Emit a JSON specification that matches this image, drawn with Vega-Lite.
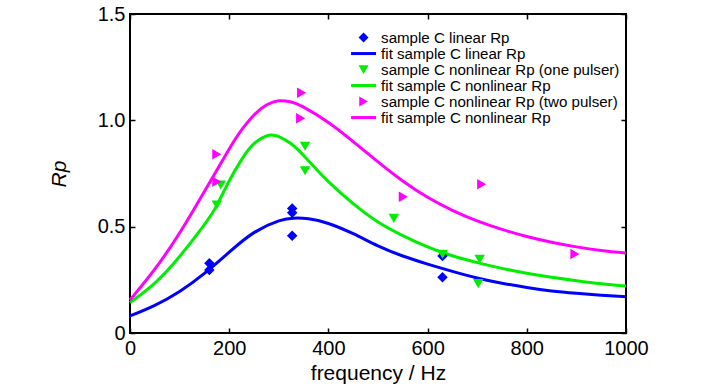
{
  "$schema": "https://vega.github.io/schema/vega-lite/v6.json",
  "width": 496,
  "height": 319,
  "autosize": {"type": "none"},
  "padding": {"left": 130, "top": 14, "right": 101, "bottom": 57},
  "background": "white",
  "config": {
    "view": {"stroke": "black", "strokeWidth": 2},
    "axis": {
      "grid": false,
      "domain": false,
      "tickColor": "black",
      "tickWidth": 1.5,
      "tickSize": -5,
      "labelColor": "black",
      "titleColor": "black",
      "labelFont": "Liberation Sans",
      "titleFont": "Liberation Sans",
      "labelFontSize": 20,
      "titleFontSize": 21,
      "titleFontWeight": "normal",
      "labelFlush": false
    }
  },
  "datasets": {
    "fits": [
      {"frequency": 0, "Rp": 0.08, "series": "linear fit"},
      {"frequency": 50, "Rp": 0.13, "series": "linear fit"},
      {"frequency": 100, "Rp": 0.195, "series": "linear fit"},
      {"frequency": 150, "Rp": 0.28, "series": "linear fit"},
      {"frequency": 200, "Rp": 0.38, "series": "linear fit"},
      {"frequency": 250, "Rp": 0.472, "series": "linear fit"},
      {"frequency": 300, "Rp": 0.527, "series": "linear fit"},
      {"frequency": 330, "Rp": 0.54, "series": "linear fit"},
      {"frequency": 360, "Rp": 0.537, "series": "linear fit"},
      {"frequency": 400, "Rp": 0.515, "series": "linear fit"},
      {"frequency": 450, "Rp": 0.467, "series": "linear fit"},
      {"frequency": 500, "Rp": 0.41, "series": "linear fit"},
      {"frequency": 550, "Rp": 0.362, "series": "linear fit"},
      {"frequency": 600, "Rp": 0.324, "series": "linear fit"},
      {"frequency": 650, "Rp": 0.29, "series": "linear fit"},
      {"frequency": 700, "Rp": 0.259, "series": "linear fit"},
      {"frequency": 750, "Rp": 0.234, "series": "linear fit"},
      {"frequency": 800, "Rp": 0.214, "series": "linear fit"},
      {"frequency": 850, "Rp": 0.198, "series": "linear fit"},
      {"frequency": 900, "Rp": 0.187, "series": "linear fit"},
      {"frequency": 950, "Rp": 0.178, "series": "linear fit"},
      {"frequency": 1000, "Rp": 0.171, "series": "linear fit"},
      {"frequency": 0, "Rp": 0.143, "series": "one pulser fit"},
      {"frequency": 50, "Rp": 0.235, "series": "one pulser fit"},
      {"frequency": 100, "Rp": 0.36, "series": "one pulser fit"},
      {"frequency": 150, "Rp": 0.51, "series": "one pulser fit"},
      {"frequency": 175, "Rp": 0.6, "series": "one pulser fit"},
      {"frequency": 200, "Rp": 0.715, "series": "one pulser fit"},
      {"frequency": 225, "Rp": 0.815, "series": "one pulser fit"},
      {"frequency": 250, "Rp": 0.89, "series": "one pulser fit"},
      {"frequency": 280, "Rp": 0.93, "series": "one pulser fit"},
      {"frequency": 300, "Rp": 0.923, "series": "one pulser fit"},
      {"frequency": 325, "Rp": 0.89, "series": "one pulser fit"},
      {"frequency": 350, "Rp": 0.835, "series": "one pulser fit"},
      {"frequency": 375, "Rp": 0.772, "series": "one pulser fit"},
      {"frequency": 400, "Rp": 0.712, "series": "one pulser fit"},
      {"frequency": 450, "Rp": 0.608, "series": "one pulser fit"},
      {"frequency": 500, "Rp": 0.522, "series": "one pulser fit"},
      {"frequency": 550, "Rp": 0.458, "series": "one pulser fit"},
      {"frequency": 600, "Rp": 0.405, "series": "one pulser fit"},
      {"frequency": 650, "Rp": 0.363, "series": "one pulser fit"},
      {"frequency": 700, "Rp": 0.331, "series": "one pulser fit"},
      {"frequency": 750, "Rp": 0.304, "series": "one pulser fit"},
      {"frequency": 800, "Rp": 0.281, "series": "one pulser fit"},
      {"frequency": 850, "Rp": 0.262, "series": "one pulser fit"},
      {"frequency": 900, "Rp": 0.246, "series": "one pulser fit"},
      {"frequency": 950, "Rp": 0.232, "series": "one pulser fit"},
      {"frequency": 1000, "Rp": 0.221, "series": "one pulser fit"},
      {"frequency": 0, "Rp": 0.155, "series": "two pulser fit"},
      {"frequency": 50, "Rp": 0.3, "series": "two pulser fit"},
      {"frequency": 100, "Rp": 0.47, "series": "two pulser fit"},
      {"frequency": 150, "Rp": 0.665, "series": "two pulser fit"},
      {"frequency": 200, "Rp": 0.865, "series": "two pulser fit"},
      {"frequency": 225, "Rp": 0.955, "series": "two pulser fit"},
      {"frequency": 250, "Rp": 1.025, "series": "two pulser fit"},
      {"frequency": 275, "Rp": 1.072, "series": "two pulser fit"},
      {"frequency": 300, "Rp": 1.092, "series": "two pulser fit"},
      {"frequency": 325, "Rp": 1.086, "series": "two pulser fit"},
      {"frequency": 350, "Rp": 1.062, "series": "two pulser fit"},
      {"frequency": 400, "Rp": 0.99, "series": "two pulser fit"},
      {"frequency": 450, "Rp": 0.9, "series": "two pulser fit"},
      {"frequency": 500, "Rp": 0.805, "series": "two pulser fit"},
      {"frequency": 550, "Rp": 0.715, "series": "two pulser fit"},
      {"frequency": 600, "Rp": 0.638, "series": "two pulser fit"},
      {"frequency": 650, "Rp": 0.577, "series": "two pulser fit"},
      {"frequency": 700, "Rp": 0.527, "series": "two pulser fit"},
      {"frequency": 750, "Rp": 0.487, "series": "two pulser fit"},
      {"frequency": 800, "Rp": 0.454, "series": "two pulser fit"},
      {"frequency": 850, "Rp": 0.427, "series": "two pulser fit"},
      {"frequency": 900, "Rp": 0.405, "series": "two pulser fit"},
      {"frequency": 950, "Rp": 0.388, "series": "two pulser fit"},
      {"frequency": 1000, "Rp": 0.376, "series": "two pulser fit"}
    ],
    "samples": [
      {"frequency": 160, "Rp": 0.328, "series": "linear"},
      {"frequency": 160, "Rp": 0.296, "series": "linear"},
      {"frequency": 327, "Rp": 0.586, "series": "linear"},
      {"frequency": 327, "Rp": 0.565, "series": "linear"},
      {"frequency": 327, "Rp": 0.457, "series": "linear"},
      {"frequency": 630, "Rp": 0.362, "series": "linear"},
      {"frequency": 630, "Rp": 0.262, "series": "linear"},
      {"frequency": 175, "Rp": 0.602, "series": "one pulser"},
      {"frequency": 183, "Rp": 0.696, "series": "one pulser"},
      {"frequency": 353, "Rp": 0.878, "series": "one pulser"},
      {"frequency": 353, "Rp": 0.763, "series": "one pulser"},
      {"frequency": 532, "Rp": 0.539, "series": "one pulser"},
      {"frequency": 630, "Rp": 0.37, "series": "one pulser"},
      {"frequency": 705, "Rp": 0.347, "series": "one pulser"},
      {"frequency": 702, "Rp": 0.232, "series": "one pulser"},
      {"frequency": 175, "Rp": 0.84, "series": "two pulser"},
      {"frequency": 175, "Rp": 0.711, "series": "two pulser"},
      {"frequency": 346, "Rp": 1.13, "series": "two pulser"},
      {"frequency": 344, "Rp": 1.01, "series": "two pulser"},
      {"frequency": 551, "Rp": 0.641, "series": "two pulser"},
      {"frequency": 709, "Rp": 0.7, "series": "two pulser"},
      {"frequency": 897, "Rp": 0.371, "series": "two pulser"}
    ]
  },
  "resolve": {"axis": {"x": "independent", "y": "independent"}},
  "layer": [
    {
      "data": {"name": "fits"},
      "mark": {"type": "line", "strokeWidth": 3, "interpolate": "natural"},
      "encoding": {
        "x": {
          "field": "frequency", "type": "quantitative",
          "scale": {"domain": [0, 1000], "nice": false},
          "axis": {"orient": "bottom", "values": [0, 200, 400, 600, 800, 1000], "format": "d", "title": "frequency / Hz", "labelPadding": 10, "titlePadding": 4}
        },
        "y": {
          "field": "Rp", "type": "quantitative",
          "scale": {"domain": [0, 1.5], "nice": false},
          "axis": {"orient": "left", "values": [0, 0.5, 1, 1.5], "labelExpr": "datum.value == 0 ? '0' : format(datum.value, '.1f')", "title": "Rp", "titleFontStyle": "italic", "labelPadding": 10, "titlePadding": 28}
        },
        "color": {
          "field": "series", "type": "nominal",
          "scale": {
            "domain": ["linear", "linear fit", "one pulser", "one pulser fit", "two pulser", "two pulser fit"],
            "range": ["#0000ff", "#0000ff", "#00ee00", "#00ee00", "#ff00ff", "#ff00ff"]
          },
          "legend": {
            "title": null,
            "orient": "none",
            "legendX": 226,
            "legendY": 16,
            "padding": 0,
            "rowPadding": -1.3,
            "symbolSize": 100,
            "labelFont": "Liberation Sans",
            "labelFontSize": 15.1,
            "labelLimit": 400,
            "labelColor": "black",
            "labelOffset": 10,
            "labelExpr": "{'linear': 'sample C linear Rp', 'linear fit': 'fit sample C linear Rp', 'one pulser': 'sample C nonlinear Rp (one pulser)', 'one pulser fit': 'fit sample C nonlinear Rp', 'two pulser': 'sample C nonlinear Rp (two pulser)', 'two pulser fit': 'fit sample C nonlinear Rp'}[datum.value]",
            "encode": {
              "symbols": {
                "update": {
                  "fill": {"scale": "color", "field": "value"},
                  "stroke": {"scale": "color", "field": "value"},
                  "strokeWidth": {"signal": "indexof(['linear fit', 'one pulser fit', 'two pulser fit'], datum.value) >= 0 ? 3 : 0"}
                }
              }
            }
          }
        }
      }
    },
    {
      "data": {"name": "samples"},
      "mark": {"type": "point", "filled": true, "opacity": 1, "size": 110},
      "encoding": {
        "x": {
          "field": "frequency", "type": "quantitative",
          "axis": {"orient": "top", "values": [0, 200, 400, 600, 800, 1000], "labels": false, "title": null}
        },
        "y": {
          "field": "Rp", "type": "quantitative",
          "axis": {"orient": "right", "values": [0, 0.5, 1, 1.5], "labels": false, "title": null}
        },
        "color": {"field": "series", "type": "nominal"},
        "shape": {
          "field": "series", "type": "nominal",
          "scale": {
            "domain": ["linear", "linear fit", "one pulser", "one pulser fit", "two pulser", "two pulser fit"],
            "range": ["diamond", "M-2.5,0H2.5", "triangle-down", "M-2.5,0H2.5", "triangle-right", "M-2.5,0H2.5"]
          }
        }
      }
    }
  ]
}
